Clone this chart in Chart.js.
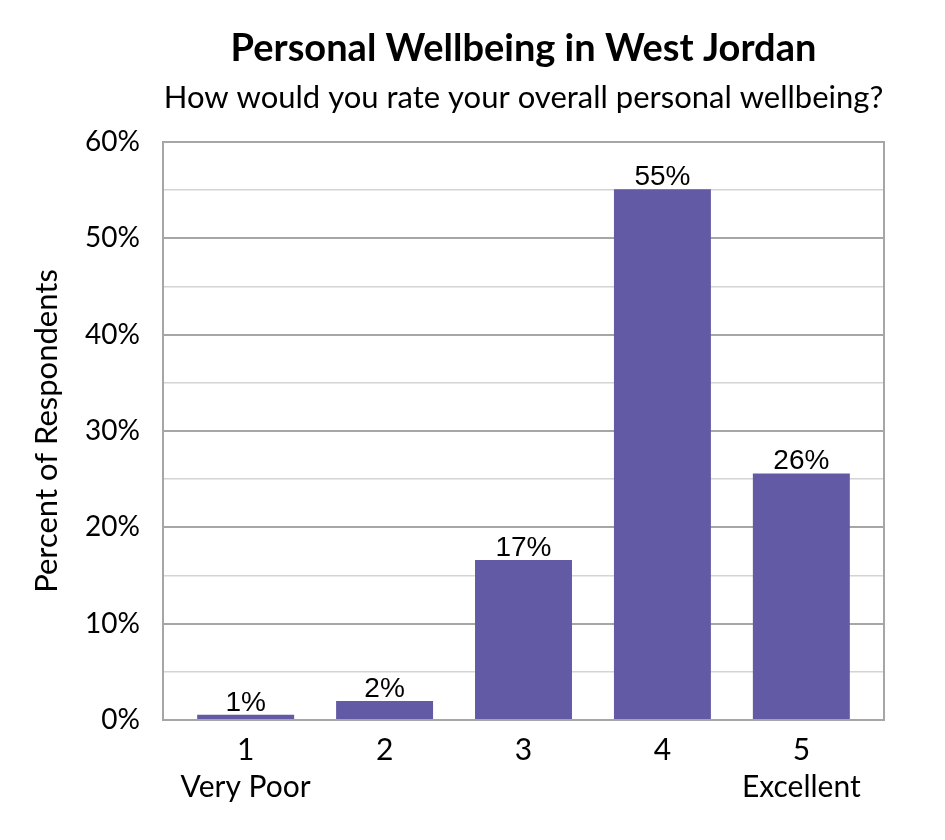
<!DOCTYPE html>
<html lang="en">
<head>
  <meta charset="UTF-8">
  <title>Personal Wellbeing in West Jordan</title>
  <script src="https://cdn.jsdelivr.net/npm/chart.js"></script>
  <style>
    html, body { margin: 0; padding: 0; background: #fff; }
    #wrap { width: 945px; height: 840px; }
  </style>
</head>
<body>
  <div id="wrap"><canvas id="chart" width="945" height="840"></canvas></div>

  <script>
    // chart data
    const ratings = ['1', '2', '3', '4', '5'];
    const ratingNames = ['Very Poor', '', '', '', 'Excellent'];
    const percents = [0.55, 1.97, 16.6, 55.1, 25.6];
    const yTicks = [0, 10, 20, 30, 40, 50, 60];

    const chartTitle = 'Personal Wellbeing in West Jordan';
    const chartSubtitle = 'How would you rate your overall personal wellbeing?';

    const purple = '#625AA5';
    const frame = '#A6A6A6';

    // titles centred over the plot area, plus frame and value labels
    const extras = {
      id: 'extras',
      afterDraw(chart) {
        const { ctx, chartArea } = chart;
        const cx = (chartArea.left + chartArea.right) / 2;
        ctx.save();
        ctx.fillStyle = '#000';
        ctx.textAlign = 'center';
        ctx.textBaseline = 'alphabetic';
        ctx.font = 'bold 38px Lato';
        ctx.fillText(chartTitle, cx, 61);
        ctx.font = '31px Lato';
        ctx.fillText(chartSubtitle, cx, 108);

        ctx.strokeStyle = frame;
        ctx.lineWidth = 2;
        ctx.strokeRect(chartArea.left, chartArea.top, chartArea.right - chartArea.left, chartArea.bottom - chartArea.top);

        ctx.font = '28px "Liberation Sans"';
        const meta = chart.getDatasetMeta(0);
        meta.data.forEach((bar, i) => {
          ctx.fillText(Math.round(percents[i]) + '%', bar.x, bar.y - 4);
        });
        ctx.restore();
      }
    };

    new Chart(document.getElementById('chart'), {
      type: 'bar',
      data: {
        datasets: [{
          data: percents.map((v, i) => ({ x: i + 1, y: v })),
          backgroundColor: purple,
          barPercentage: 0.698,
          categoryPercentage: 1
        }]
      },
      options: {
        responsive: false,
        animation: false,
        layout: { padding: { top: 142, right: 61, bottom: 0, left: 0 } },
        plugins: { legend: { display: false }, tooltip: { enabled: false } },
        scales: {
          x: {
            type: 'linear',
            min: 0.405,
            max: 5.595,
            offset: false,
            afterFit: s => { s.height = 120; },
            afterBuildTicks: s => { s.ticks = ratings.map((r, i) => ({ value: i + 1 })); },
            grid: { display: false, drawTicks: false },
            border: { display: true, color: frame, width: 2 },
            ticks: {
              autoSkip: false,
              maxRotation: 0,
              padding: 12,
              color: '#000',
              font: { family: 'Lato', size: 30, lineHeight: 1.23 },
              callback: v => [ratings[v - 1], ratingNames[v - 1]]
            }
          },
          y: {
            min: 0,
            max: 60,
            afterFit: s => { s.width = 163; },
            afterBuildTicks: s => {
              const t = [];
              yTicks.forEach((v, i) => { t.push({ value: v }); if (i < yTicks.length - 1) t.push({ value: v + 5 }); });
              s.ticks = t;
            },
            grid: {
              drawTicks: false,
              color: c => (c.tick && c.tick.value % 10 === 0) ? frame : '#D4D4D4',
              lineWidth: c => (c.tick && c.tick.value % 10 === 0) ? 2 : 1.5
            },
            border: { display: true, color: frame, width: 2 },
            ticks: {
              padding: 23,
              color: '#000',
              font: { family: 'Lato', size: 28 },
              callback: v => (v % 10 === 0 ? v + '%' : '')
            },
            title: {
              display: true,
              text: 'Percent of Respondents',
              color: '#000',
              font: { family: 'Lato', size: 31 },
              padding: { top: 28, bottom: 0 }
            }
          }
        }
      },
      plugins: [extras]
    });
  </script>
</body>
</html>
